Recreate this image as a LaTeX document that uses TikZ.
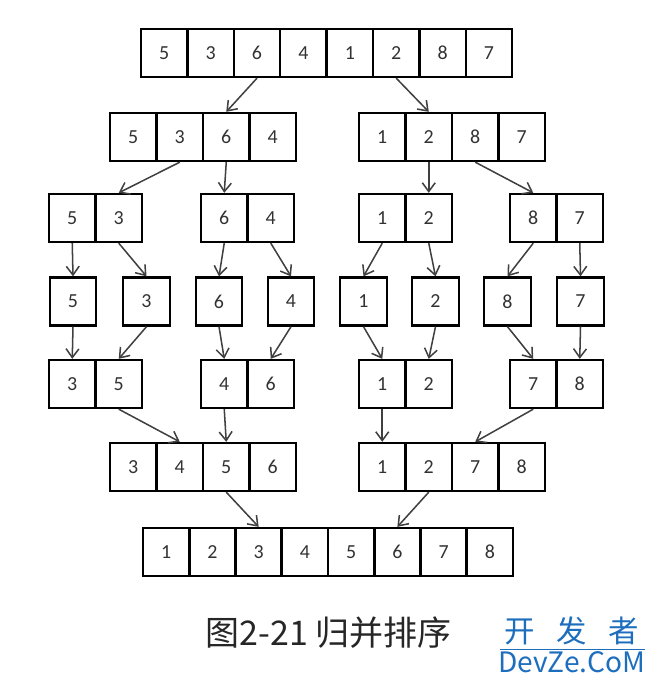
\documentclass[tikz,border=0pt]{standalone}
\usepackage{fontspec}
\setmainfont{Carlito}
\newfontfamily\cjk{Noto Sans CJK SC}
\usetikzlibrary{arrows.meta}
\definecolor{digitgray}{RGB}{50,50,50}
\definecolor{markblue}{RGB}{30,110,190}

\begin{document}
\begin{tikzpicture}[x=0.03cm, y=-0.03cm,
    cell/.style={draw, rectangle, line width=2pt, inner sep=0pt,
        minimum width=1.395cm, minimum height=1.44cm,
        font=\fontsize{17}{17}\selectfont, text=digitgray},
    >={Straight Barb[length=7.5pt,width=11pt]},
    link/.style={->, line width=1.3pt, draw=black!75}]
    \useasboundingbox (0,0) rectangle (656,683);

    % one row of cells: left edge, y, names and values
    \foreach \v [count=\i] in {5,3,6,4,1,2,8,7}
        \draw (141+46.4*\i-23.2,53) node [cell] (t\i) {\v};

    \foreach \v [count=\i] in {5,3,6,4}
        \draw (110+46.5*\i-23.25,137) node [cell] (a\i) {\v};
    \foreach \v [count=\i] in {1,2,8,7}
        \draw (359+46.5*\i-23.25,137) node [cell] (b\i) {\v};

    \foreach \v [count=\i] in {5,3}
        \draw (49+46.5*\i-23.25,218) node [cell] (c\i) {\v};
    \foreach \v [count=\i] in {6,4}
        \draw (201+46.5*\i-23.25,218) node [cell] (d\i) {\v};
    \foreach \v [count=\i] in {1,2}
        \draw (359+46.5*\i-23.25,218) node [cell] (e\i) {\v};
    \foreach \v [count=\i] in {8,7}
        \draw (510+46.5*\i-23.25,218) node [cell] (f\i) {\v};

    \foreach \v/\x [count=\i] in {5/73,3/146.5,6/219,4/291,1/363.5,2/435.5,8/507.5,7/580.5}
        \draw (\x,301.5) node [cell] (s\i) {\v};

    \foreach \v [count=\i] in {3,5}
        \draw (49+46.5*\i-23.25,384) node [cell] (g\i) {\v};
    \foreach \v [count=\i] in {4,6}
        \draw (201+46.5*\i-23.25,384) node [cell] (h\i) {\v};
    \foreach \v [count=\i] in {1,2}
        \draw (359+46.5*\i-23.25,384) node [cell] (m\i) {\v};
    \foreach \v [count=\i] in {7,8}
        \draw (510+46.5*\i-23.25,384) node [cell] (n\i) {\v};

    \foreach \v [count=\i] in {3,4,5,6}
        \draw (110+46.5*\i-23.25,467) node [cell] (p\i) {\v};
    \foreach \v [count=\i] in {1,2,7,8}
        \draw (359+46.5*\i-23.25,467) node [cell] (q\i) {\v};

    \foreach \v [count=\i] in {1,2,3,4,5,6,7,8}
        \draw (143+46.25*\i-23.125,552) node [cell] (z\i) {\v};

    % split
    \draw[link] (t3.south) -- (a3.north);
    \draw[link] (t6.south) -- (b2.north);
    \draw[link] (a2.south) -- (c2.north);
    \draw[link] (a3.south) -- (d1.north);
    \draw[link] (b2.south) -- (e2.north);
    \draw[link] (b3.south) -- (f1.north);
    \draw[link] (c1.south) -- (s1.north);
    \draw[link] (c2.south) -- (s2.north);
    \draw[link] (d1.south) -- (s3.north);
    \draw[link] (d2.south) -- (s4.north);
    \draw[link] (e1.south) -- (s5.north);
    \draw[link] (e2.south) -- (s6.north);
    \draw[link] (f1.south) -- (s7.north);
    \draw[link] (f2.south) -- (s8.north);

    % merge
    \draw[link] (s1.south) -- (g1.north);
    \draw[link] (s2.south) -- (g2.north);
    \draw[link] (s3.south) -- (h1.north);
    \draw[link] (s4.south) -- (h2.north);
    \draw[link] (s5.south) -- (m1.north);
    \draw[link] (s6.south) -- (m2.north);
    \draw[link] (s7.south) -- (n1.north);
    \draw[link] (s8.south) -- (n2.north);
    \draw[link] (g2.south) -- (p2.north);
    \draw[link] (h1.south) -- (p3.north);
    \draw[link] (m1.south) -- (q1.north);
    \draw[link] (n1.south) -- (q3.north);
    \draw[link] (p3.south) -- (z3.north);
    \draw[link] (q2.south) -- (z6.north);

    % caption and mark
    \draw (328.5,633) node [font=\cjk\fontsize{29}{29}\selectfont, text=black!85] (caption) {图2-21 归并排序};
    \draw (572,631) node [font=\cjk\fontsize{26}{26}\selectfont, text=markblue] (markcn) {开\hspace{0.7em}发\hspace{0.7em}者};
    \draw (572,662) node [font=\cjk\fontsize{24}{24}\selectfont, text=markblue] (markdev) {DevZe.CoM};
    \draw[markblue, line width=0.4pt] (500,649) -- (645,649);
\end{tikzpicture}
\end{document}
